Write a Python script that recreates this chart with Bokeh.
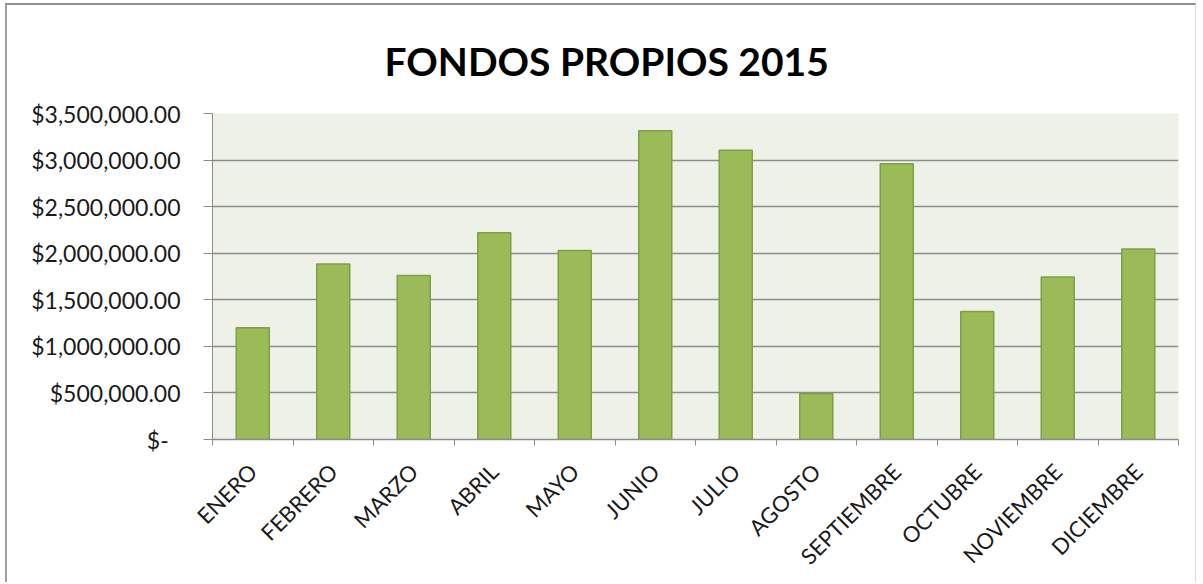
import math
from bokeh.plotting import figure
from bokeh.models import (Range1d, LinearAxis, FixedTicker, ColumnDataSource, Title)
from bokeh.embed import file_html
from bokeh.resources import INLINE

# ---- data ----
months = ["ENERO", "FEBRERO", "MARZO", "ABRIL", "MAYO", "JUNIO", "JULIO",
          "AGOSTO", "SEPTIEMBRE", "OCTUBRE", "NOVIEMBRE", "DICIEMBRE"]
values = [1200000, 1885000, 1760000, 2220000, 2030000, 3315000, 3105000,
          495000, 2960000, 1375000, 1745000, 2045000]
y_ticks = [0, 500000, 1000000, 1500000, 2000000, 2500000, 3000000, 3500000]
y_tick_labels = ["$-\u00a0\u00a0", "$500,000.00", "$1,000,000.00", "$1,500,000.00",
                 "$2,000,000.00", "$2,500,000.00", "$3,000,000.00", "$3,500,000.00"]
title_text = "FONDOS PROPIOS 2015"

FONT = "Lato"
GRID = "#8c8c8c"

n = len(months)
centers = [i + 0.5 for i in range(n)]
edges = list(range(n + 1))

source = ColumnDataSource(dict(x=centers, month=months, value=values))

p = figure(x_range=Range1d(0, n), y_range=Range1d(0, 3500000),
           width=1191, height=579, output_backend="svg", toolbar_location=None,
           x_axis_location=None,
           min_border_left=205, min_border_right=20, min_border_top=108,
           min_border_bottom=145)
p.styles = {"margin-left": "5px", "margin-top": "3px",
            "border-top": "2px solid #8f8f8f", "border-left": "2px solid #a0a0a0",
            "border-right": "1px solid #dcdcdc"}

p.background_fill_color = "#EEF1E8"
p.border_fill_color = "white"
p.outline_line_color = None
p.xgrid.visible = False

p.vbar(x="x", top="value", width=0.41, source=source,
       fill_color="#9BBB59", line_color="#7F9F46", line_width=1.5)

# y axis
yax = p.yaxis[0]
yax.ticker = FixedTicker(ticks=y_ticks)
yax.major_label_overrides = dict(zip(y_ticks, y_tick_labels))
yax.major_label_text_font = FONT
yax.major_label_text_font_size = "23px"
yax.major_label_text_color = "#1a1a1a"
yax.axis_line_color = GRID
yax.major_tick_line_color = GRID
yax.major_tick_out = 9
yax.major_tick_in = 0
yax.minor_tick_line_color = None
yax.major_label_standoff = 23

p.ygrid.ticker = FixedTicker(ticks=y_ticks)
p.ygrid.grid_line_color = GRID
p.ygrid.grid_line_width = 1.5

# x axis: month names at centres, tick marks at category boundaries
xax = LinearAxis(ticker=FixedTicker(ticks=centers, minor_ticks=edges),
                 major_label_overrides=dict(zip(centers, months)),
                 axis_line_color=GRID, axis_line_width=1.5,
                 major_tick_line_color=None,
                 minor_tick_line_color=GRID, minor_tick_out=6, minor_tick_in=0,
                 major_label_orientation=math.pi / 4,
                 major_label_text_font=FONT,
                 major_label_text_font_size="22px",
                 major_label_text_color="#1a1a1a",
                 major_label_standoff=22)
p.add_layout(xax, "below")

p.title = Title(text=title_text, align="left", offset=172,
                text_font=FONT, text_font_size="39px", text_font_style="bold",
                text_color="#000000", standoff=59)

open("out.html", "w").write(file_html(p, INLINE))
